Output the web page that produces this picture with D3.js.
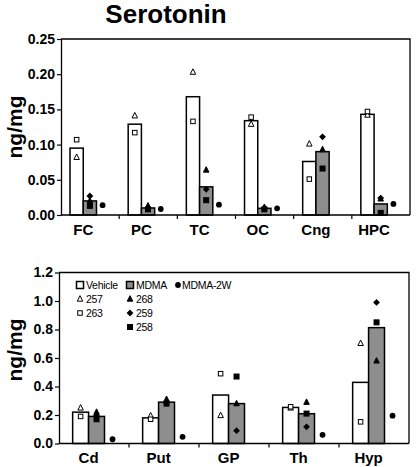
<!DOCTYPE html>
<html>
<head>
<meta charset="utf-8">
<script src="https://cdn.jsdelivr.net/npm/d3@7"></script>
<style>
body{margin:0;background:#fff;}
svg{display:block;font-family:"Liberation Sans",Arial,sans-serif;}
</style>
</head>
<body>
<svg id="chart" width="416" height="467"></svg>
<script>
// ---- data ----
const regionsTop = ["FC","PC","TC","OC","Cng","HPC"];
const vehTop  = [0.095,0.129,0.168,0.134,0.076,0.143];
const mdmaTop = [0.020,0.010,0.040,0.0095,0.090,0.0157];
const r257Top = [0.082,0.141,0.203,0.129,0.101,0.142];
const r263Top = [0.107,0.117,0.133,0.139,0.051,0.147];
const r268Top = [0.020,0.013,0.064,0.011,0.093,0.023];
const r259Top = [0.027,0.009,0.0365,0.010,0.111,0.024];
const r258Top = [0.013,0.008,0.021,0.008,0.066,0.003];
const w2Top   = [0.014,0.0085,0.0147,0.0095,null,0.0157];
const ticksTop = [0,0.05,0.10,0.15,0.20,0.25];

const regionsBot = ["Cd","Put","GP","Th","Hyp"];
const vehBot  = [0.22,0.18,0.34,0.253,0.429];
const mdmaBot = [0.19,0.29,0.28,0.209,0.813];
const r257Bot = [0.25,0.195,0.197,0.25,0.703];
const r263Bot = [0.19,0.17,0.49,0.258,0.152];
const r268Bot = [0.22,0.31,0.28,0.29,0.58];
const r259Bot = [0.195,0.285,0.09,0.117,0.99];
const r258Bot = [0.17,0.28,0.47,0.21,0.85];
const w2Bot   = [0.03,0.047,null,0.061,0.195];
const ticksBot = [0,0.2,0.4,0.6,0.8,1.0,1.2];

const groups = ["Vehicle","MDMA"];
const legendRows = [
  ["Vehicle","MDMA","MDMA-2W"],
  ["257","268",null],
  ["263","259",null],
  [null,"258",null]
];

const svg = d3.select("#chart");
const GRAY = "#8e8e8e";

function drawPanel(cfg){
  const {regions, veh, mdma, r257, r263, r268, r259, r258, w2, ticks, fmt,
         x0, x1, yTop, yBot, ymax, inner, dotF, ylabelY} = cfg;
  const g = svg.append("g");
  const x = d3.scaleBand().domain(regions).range([x0, x1]).padding(0);
  const bw = x.bandwidth();
  const xi = d3.scaleBand().domain(groups).range([inner[0]*bw, inner[1]*bw]).padding(0);
  const y = d3.scaleLinear().domain([0, ymax]).range([yBot, yTop]);

  // box (top & right)
  g.append("path").attr("d", `M${x0},${yTop}H${x1}V${yBot}`)
    .attr("fill","none").attr("stroke","#000").attr("stroke-width",1.3);

  // bars
  const barData = [];
  regions.forEach((r,i)=>{
    barData.push({r, grp:"Vehicle", v:veh[i]});
    barData.push({r, grp:"MDMA", v:mdma[i]});
  });
  g.selectAll("rect.bar").data(barData).join("rect")
    .attr("x", d=>x(d.r)+xi(d.grp))
    .attr("width", xi.bandwidth())
    .attr("y", d=>y(d.v))
    .attr("height", d=>y(0)-y(d.v))
    .attr("fill", d=>d.grp==="Vehicle"?"#fff":GRAY)
    .attr("stroke","#000").attr("stroke-width",1.5);

  // markers
  const cx = (r,grp)=>x(r)+xi(grp)+xi.bandwidth()/2;
  const pts = [];
  regions.forEach((r,i)=>{
    pts.push({x:cx(r,"Vehicle"), v:r257[i], t:"triO"});
    pts.push({x:cx(r,"Vehicle"), v:r263[i], t:"sqO"});
    pts.push({x:cx(r,"MDMA"), v:r268[i], t:"triF"});
    pts.push({x:cx(r,"MDMA"), v:r259[i], t:"diaF"});
    pts.push({x:cx(r,"MDMA"), v:r258[i], t:"sqF"});
    if(w2[i]!=null) pts.push({x:x(r)+dotF*bw, v:w2[i], t:"dot"});
  });
  pts.forEach(p=>drawMarker(g, p.t, p.x, y(p.v)));

  // y axis
  const ya = d3.axisLeft(y).tickValues(ticks).tickFormat(d3.format(fmt)).tickSize(4).tickSizeOuter(0);
  const yg = g.append("g").attr("transform",`translate(${x0},0)`).call(ya);
  yg.select(".domain").attr("stroke-width",1.3);
  yg.selectAll(".tick line").attr("stroke-width",1.2);
  yg.selectAll("text").attr("font-size",14).attr("font-weight","bold")
    .attr("font-family","'Liberation Sans',Arial,sans-serif").attr("fill","#000").attr("dx",1);

  // x axis (ticks at category boundaries)
  g.append("line").attr("x1",x0).attr("x2",x1).attr("y1",yBot).attr("y2",yBot)
    .attr("stroke","#000").attr("stroke-width",1.3);
  g.selectAll("line.xt").data(regions.slice(1)).join("line")
    .attr("x1",d=>x(d)).attr("x2",d=>x(d)).attr("y1",yBot).attr("y2",yBot+4)
    .attr("stroke","#000").attr("stroke-width",1.2);
  g.selectAll("text.xl").data(regions).join("text")
    .attr("x",d=>x(d)+xi("MDMA"))
    .attr("y",yBot+19.5)
    .attr("text-anchor","middle").attr("font-size",15).attr("font-weight","bold")
    .text(d=>d);

  // y label
  g.append("text").attr("transform",`translate(22,${ylabelY}) rotate(-90)`)
    .attr("text-anchor","middle").attr("font-size",21).attr("font-weight","bold")
    .text("ng/mg");
  return {x,y};
}

function drawMarker(g, t, x, y){
  if(t==="triO"||t==="triF"){
    const s=5.5;
    g.append("path").attr("d",`M${x},${y-s*0.6}L${x+s/2},${y+s*0.4}L${x-s/2},${y+s*0.4}Z`)
      .attr("fill", t==="triF"?"#000":"#fff").attr("stroke","#000").attr("stroke-width",1);
  } else if(t==="sqO"||t==="sqF"){
    const s = t==="sqO"?4.5:5;
    g.append("rect").attr("x",x-s/2).attr("y",y-s/2).attr("width",s).attr("height",s)
      .attr("fill", t==="sqF"?"#000":"#fff").attr("stroke","#000").attr("stroke-width",1);
  } else if(t==="diaF"){
    const s=3.4;
    g.append("path").attr("d",`M${x},${y-s}L${x+s},${y}L${x},${y+s}L${x-s},${y}Z`).attr("fill","#000");
  } else if(t==="dot"){
    g.append("circle").attr("cx",x).attr("cy",y).attr("r",2.9).attr("fill","#000");
  } else if(t==="legVeh"||t==="legMdma"){
    g.append("rect").attr("x",x-3.5).attr("y",y-3.5).attr("width",7).attr("height",7)
      .attr("fill", t==="legVeh"?"#fff":GRAY).attr("stroke","#000").attr("stroke-width",1.5);
  }
}

// Title
svg.append("text").attr("x",166).attr("y",23).attr("text-anchor","middle")
  .attr("font-size",26).attr("font-weight","bold").text("Serotonin");

drawPanel({regions:regionsTop, veh:vehTop, mdma:mdmaTop, r257:r257Top, r263:r263Top,
  r268:r268Top, r259:r259Top, r258:r258Top, w2:w2Top, ticks:ticksTop, fmt:".2f",
  x0:61, x1:410, yTop:39, yBot:215, ymax:0.25, inner:[0.155,0.61], dotF:0.715, ylabelY:127});

drawPanel({regions:regionsBot, veh:vehBot, mdma:mdmaBot, r257:r257Bot, r263:r263Bot,
  r268:r268Bot, r259:r259Bot, r258:r258Bot, w2:w2Bot, ticks:ticksBot, fmt:".1f",
  x0:59, x1:409, yTop:272.5, yBot:443.5, ymax:1.2, inner:[0.195,0.65], dotF:0.765, ylabelY:350});

// Legend
const legSym = {"Vehicle":"legVeh","MDMA":"legMdma","MDMA-2W":"dot","257":"triO","263":"sqO","268":"triF","259":"diaF","258":"sqF"};
const legX = [80,130,178], legY = [285,299,313,327];
const lg = svg.append("g");
legendRows.forEach((row,ri)=>row.forEach((lab,ci)=>{
  if(lab==null) return;
  drawMarker(lg, legSym[lab], legX[ci], legY[ri]);
  lg.append("text").attr("x",legX[ci]+(ci===2?4:6)).attr("y",legY[ri]+3.8)
    .attr("font-size",10.5).attr("letter-spacing","-0.3").text(lab);
}));
</script>
</body>
</html>
